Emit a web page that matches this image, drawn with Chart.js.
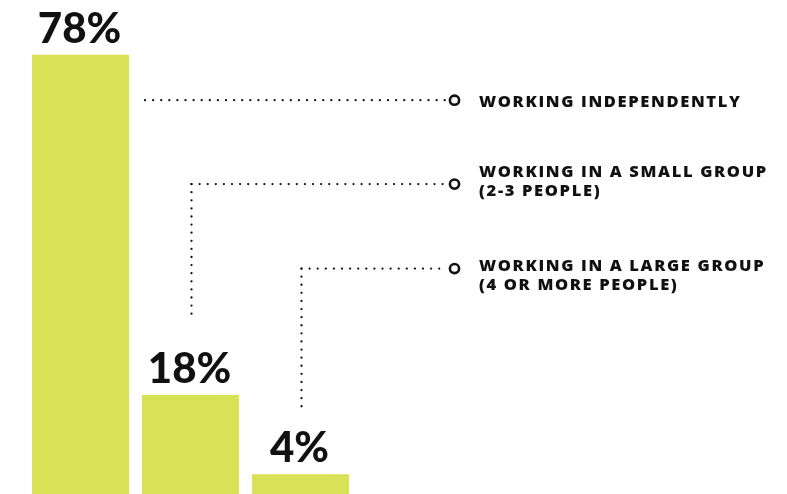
<!DOCTYPE html>
<html>
<head>
<meta charset="utf-8">
<script src="https://cdn.jsdelivr.net/npm/chart.js@4"></script>
<style>
html,body{margin:0;padding:0;background:#fff;overflow:hidden;width:787px;height:494px;}
canvas{display:block;}
</style>
</head>
<body>
<canvas id="c" width="787" height="497"></canvas>
<script>
// ---- data ----
const categories = ["Working independently", "Working in a small group (2-3 people)", "Working in a large group (4 or more people)"];
const values = [78, 18, 4];
const labelLines = [
  ["WORKING INDEPENDENTLY"],
  ["WORKING IN A SMALL GROUP", "(2-3 PEOPLE)"],
  ["WORKING IN A LARGE GROUP", "(4 OR MORE PEOPLE)"]
];
// leader levels (in axis units)
const leaderLevels = [70, 55.2, 40.3];
const leaderEnds = [null, 32, 15.6];

const BAR = '#d9e156';
const INK = '#111111';

const valueLabels = {
  id: 'valueLabels',
  afterDatasetsDraw(chart) {
    const ctx = chart.ctx;
    const meta = chart.getDatasetMeta(0);
    ctx.save();
    ctx.fillStyle = INK;
    ctx.font = '900 42px Lato';
    ctx.textAlign = 'center';
    ctx.textBaseline = 'alphabetic';
    meta.data.forEach((bar, i) => {
      ctx.fillText(values[i] + '%', bar.x - 1, bar.y - 12);
    });
    ctx.restore();
  }
};

function dots(ctx, x1, y1, x2, y2, step) {
  const len = Math.hypot(x2 - x1, y2 - y1);
  const n = Math.floor(len / step);
  for (let k = 0; k <= n; k++) {
    const t = n === 0 ? 0 : (k * step) / len;
    ctx.beginPath();
    ctx.arc(x1 + (x2 - x1) * t, y1 + (y2 - y1) * t, 1.15, 0, Math.PI * 2);
    ctx.fill();
  }
}

const leaders = {
  id: 'leaders',
  afterDraw(chart) {
    const ctx = chart.ctx;
    const ys = chart.scales.y;
    const meta = chart.getDatasetMeta(0);
    const lineEnd = 446;
    const circleX = 454.5;
    const textX = 479;
    const textOff = [6.8, -7.3, 2.7];
    ctx.save();
    ctx.fillStyle = INK;
    ctx.strokeStyle = INK;
    meta.data.forEach((bar, i) => {
      const py = ys.getPixelForValue(leaderLevels[i]);
      if (i === 0) {
        dots(ctx, bar.x + bar.width / 2 + 16, py, lineEnd, py, 8.1);
      } else {
        const x0 = bar.x + 1;
        dots(ctx, x0, py, lineEnd, py, 8.1);
        dots(ctx, x0, py, x0, ys.getPixelForValue(leaderEnds[i]), 8.1);
      }
      ctx.lineWidth = 2.6;
      ctx.beginPath();
      ctx.arc(circleX, py, 4.6, 0, Math.PI * 2);
      ctx.stroke();
      ctx.font = '800 16.5px "Open Sans"';
      ctx.letterSpacing = '1.65px';
      ctx.textAlign = 'left';
      ctx.textBaseline = 'alphabetic';
      labelLines[i].forEach((ln, j) => {
        ctx.fillText(ln, textX, py + textOff[i] + j * 18.8);
      });
    });
    ctx.restore();
  }
};

new Chart(document.getElementById('c'), {
  type: 'bar',
  data: {
    labels: categories,
    datasets: [{
      data: values,
      backgroundColor: BAR,
      borderWidth: 0,
      barPercentage: 0.882,
      categoryPercentage: 1
    }]
  },
  options: {
    responsive: false,
    animation: false,
    layout: { padding: { left: 25.5, right: 431.5, top: 0, bottom: 0 } },
    plugins: { legend: { display: false }, tooltip: { enabled: false } },
    scales: {
      x: { display: false },
      y: { display: false, min: 0, max: 87.68 }
    }
  },
  plugins: [valueLabels, leaders]
});
</script>
</body>
</html>
